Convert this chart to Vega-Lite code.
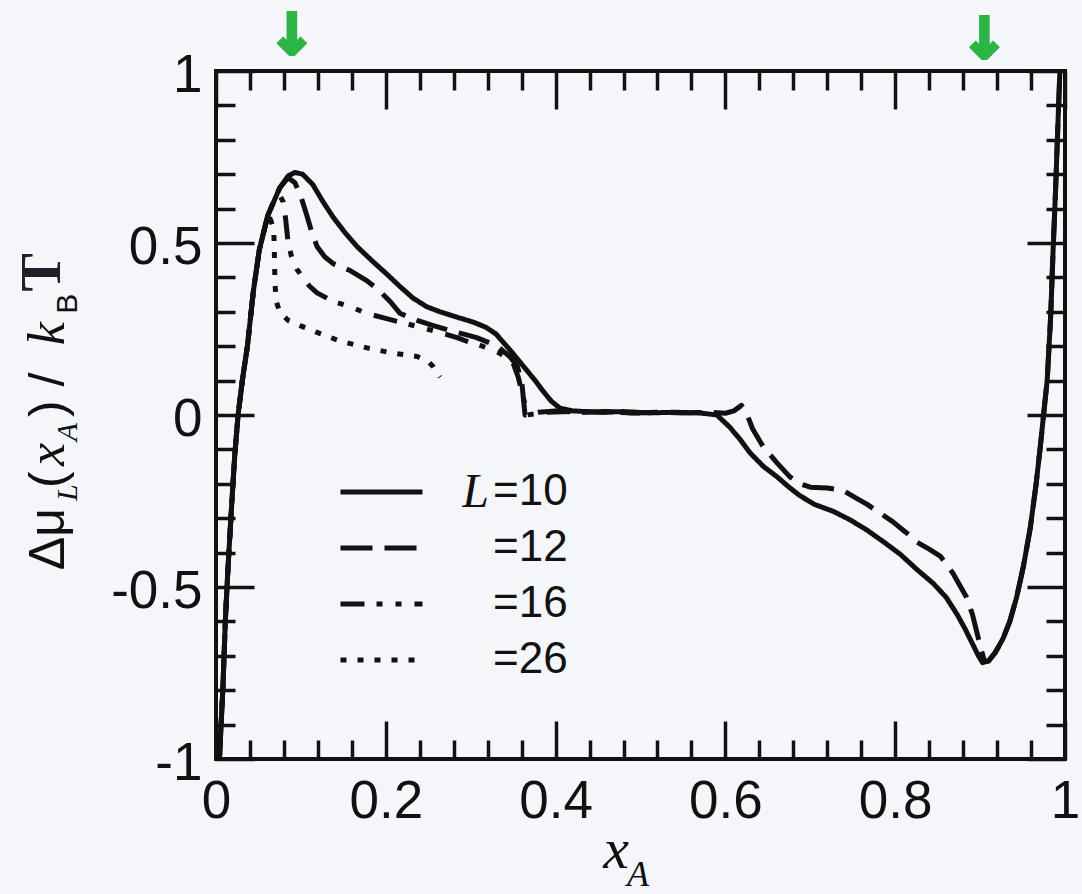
{
  "$schema": "https://vega.github.io/schema/vega-lite/v6.json",
  "width": 849,
  "height": 688,
  "autosize": {"type": "none"},
  "padding": {"left": 216, "top": 71, "right": 17, "bottom": 135},
  "background": "#f5f6fa",
  "config": {
    "view": {"stroke": "#111111", "strokeWidth": 4},
    "axis": {
      "domain": false,
      "grid": false,
      "title": null,
      "tickColor": "#111111",
      "tickWidth": 3.5,
      "labelFont": "Liberation Sans",
      "labelFontSize": 53,
      "labelColor": "#111111",
      "labelOverlap": false,
      "labelFlush": false,
      "labelBound": false
    }
  },
  "datasets": {
    "curves": [
      {"L": 10, "x_A": 0.004, "dmu": -1.0},
      {"L": 10, "x_A": 0.008, "dmu": -0.8},
      {"L": 10, "x_A": 0.011, "dmu": -0.6},
      {"L": 10, "x_A": 0.014, "dmu": -0.45},
      {"L": 10, "x_A": 0.018, "dmu": -0.28},
      {"L": 10, "x_A": 0.022, "dmu": -0.12},
      {"L": 10, "x_A": 0.026, "dmu": 0.0},
      {"L": 10, "x_A": 0.031, "dmu": 0.1},
      {"L": 10, "x_A": 0.037, "dmu": 0.2},
      {"L": 10, "x_A": 0.044, "dmu": 0.36},
      {"L": 10, "x_A": 0.051, "dmu": 0.48},
      {"L": 10, "x_A": 0.061, "dmu": 0.58},
      {"L": 10, "x_A": 0.075, "dmu": 0.66},
      {"L": 10, "x_A": 0.085, "dmu": 0.695},
      {"L": 10, "x_A": 0.093, "dmu": 0.705},
      {"L": 10, "x_A": 0.102, "dmu": 0.7},
      {"L": 10, "x_A": 0.114, "dmu": 0.67},
      {"L": 10, "x_A": 0.126, "dmu": 0.62},
      {"L": 10, "x_A": 0.138, "dmu": 0.575},
      {"L": 10, "x_A": 0.152, "dmu": 0.53},
      {"L": 10, "x_A": 0.166, "dmu": 0.49},
      {"L": 10, "x_A": 0.183, "dmu": 0.45},
      {"L": 10, "x_A": 0.201, "dmu": 0.41},
      {"L": 10, "x_A": 0.216, "dmu": 0.375},
      {"L": 10, "x_A": 0.232, "dmu": 0.34},
      {"L": 10, "x_A": 0.248, "dmu": 0.315},
      {"L": 10, "x_A": 0.264, "dmu": 0.3},
      {"L": 10, "x_A": 0.283, "dmu": 0.285},
      {"L": 10, "x_A": 0.303, "dmu": 0.27},
      {"L": 10, "x_A": 0.318, "dmu": 0.255},
      {"L": 10, "x_A": 0.33, "dmu": 0.235},
      {"L": 10, "x_A": 0.346, "dmu": 0.19},
      {"L": 10, "x_A": 0.356, "dmu": 0.16},
      {"L": 10, "x_A": 0.366, "dmu": 0.13},
      {"L": 10, "x_A": 0.376, "dmu": 0.1},
      {"L": 10, "x_A": 0.385, "dmu": 0.07},
      {"L": 10, "x_A": 0.395, "dmu": 0.04},
      {"L": 10, "x_A": 0.405, "dmu": 0.02},
      {"L": 10, "x_A": 0.42, "dmu": 0.012},
      {"L": 10, "x_A": 0.45, "dmu": 0.008},
      {"L": 10, "x_A": 0.48, "dmu": 0.01},
      {"L": 10, "x_A": 0.51, "dmu": 0.006},
      {"L": 10, "x_A": 0.54, "dmu": 0.008},
      {"L": 10, "x_A": 0.57, "dmu": 0.006},
      {"L": 10, "x_A": 0.59, "dmu": 0.0},
      {"L": 10, "x_A": 0.605, "dmu": -0.035},
      {"L": 10, "x_A": 0.617, "dmu": -0.07},
      {"L": 10, "x_A": 0.629, "dmu": -0.11},
      {"L": 10, "x_A": 0.645, "dmu": -0.15},
      {"L": 10, "x_A": 0.661, "dmu": -0.18},
      {"L": 10, "x_A": 0.675, "dmu": -0.21},
      {"L": 10, "x_A": 0.688, "dmu": -0.235},
      {"L": 10, "x_A": 0.705, "dmu": -0.26},
      {"L": 10, "x_A": 0.727, "dmu": -0.28},
      {"L": 10, "x_A": 0.747, "dmu": -0.305},
      {"L": 10, "x_A": 0.767, "dmu": -0.335},
      {"L": 10, "x_A": 0.787, "dmu": -0.37},
      {"L": 10, "x_A": 0.806, "dmu": -0.405},
      {"L": 10, "x_A": 0.826, "dmu": -0.45},
      {"L": 10, "x_A": 0.845, "dmu": -0.49},
      {"L": 10, "x_A": 0.86, "dmu": -0.53},
      {"L": 10, "x_A": 0.873, "dmu": -0.58},
      {"L": 10, "x_A": 0.883, "dmu": -0.625},
      {"L": 10, "x_A": 0.892, "dmu": -0.67},
      {"L": 10, "x_A": 0.898, "dmu": -0.7},
      {"L": 10, "x_A": 0.903, "dmu": -0.72},
      {"L": 10, "x_A": 0.91, "dmu": -0.715},
      {"L": 10, "x_A": 0.918, "dmu": -0.69},
      {"L": 10, "x_A": 0.927, "dmu": -0.65},
      {"L": 10, "x_A": 0.935, "dmu": -0.6},
      {"L": 10, "x_A": 0.943, "dmu": -0.53},
      {"L": 10, "x_A": 0.951, "dmu": -0.44},
      {"L": 10, "x_A": 0.959, "dmu": -0.33},
      {"L": 10, "x_A": 0.966, "dmu": -0.2},
      {"L": 10, "x_A": 0.971, "dmu": -0.09},
      {"L": 10, "x_A": 0.976, "dmu": 0.03},
      {"L": 10, "x_A": 0.979, "dmu": 0.1},
      {"L": 10, "x_A": 0.983, "dmu": 0.28},
      {"L": 10, "x_A": 0.986, "dmu": 0.48},
      {"L": 10, "x_A": 0.989, "dmu": 0.66},
      {"L": 10, "x_A": 0.991, "dmu": 0.8},
      {"L": 10, "x_A": 0.994, "dmu": 1.0},

      {"L": 12, "x_A": 0.004, "dmu": -1.0},
      {"L": 12, "x_A": 0.008, "dmu": -0.8},
      {"L": 12, "x_A": 0.011, "dmu": -0.6},
      {"L": 12, "x_A": 0.014, "dmu": -0.45},
      {"L": 12, "x_A": 0.018, "dmu": -0.28},
      {"L": 12, "x_A": 0.022, "dmu": -0.12},
      {"L": 12, "x_A": 0.026, "dmu": 0.0},
      {"L": 12, "x_A": 0.031, "dmu": 0.1},
      {"L": 12, "x_A": 0.037, "dmu": 0.2},
      {"L": 12, "x_A": 0.044, "dmu": 0.36},
      {"L": 12, "x_A": 0.051, "dmu": 0.48},
      {"L": 12, "x_A": 0.061, "dmu": 0.58},
      {"L": 12, "x_A": 0.075, "dmu": 0.66},
      {"L": 12, "x_A": 0.085, "dmu": 0.69},
      {"L": 12, "x_A": 0.093, "dmu": 0.675},
      {"L": 12, "x_A": 0.1, "dmu": 0.635},
      {"L": 12, "x_A": 0.107, "dmu": 0.58},
      {"L": 12, "x_A": 0.113, "dmu": 0.53},
      {"L": 12, "x_A": 0.119, "dmu": 0.49},
      {"L": 12, "x_A": 0.128, "dmu": 0.46},
      {"L": 12, "x_A": 0.138, "dmu": 0.44},
      {"L": 12, "x_A": 0.158, "dmu": 0.42},
      {"L": 12, "x_A": 0.178, "dmu": 0.39},
      {"L": 12, "x_A": 0.193, "dmu": 0.36},
      {"L": 12, "x_A": 0.205, "dmu": 0.33},
      {"L": 12, "x_A": 0.217, "dmu": 0.295},
      {"L": 12, "x_A": 0.237, "dmu": 0.275},
      {"L": 12, "x_A": 0.256, "dmu": 0.26},
      {"L": 12, "x_A": 0.276, "dmu": 0.245},
      {"L": 12, "x_A": 0.292, "dmu": 0.235},
      {"L": 12, "x_A": 0.307, "dmu": 0.225},
      {"L": 12, "x_A": 0.322, "dmu": 0.21},
      {"L": 12, "x_A": 0.334, "dmu": 0.195},
      {"L": 12, "x_A": 0.346, "dmu": 0.17},
      {"L": 12, "x_A": 0.355, "dmu": 0.14},
      {"L": 12, "x_A": 0.36, "dmu": 0.1},
      {"L": 12, "x_A": 0.362, "dmu": 0.05},
      {"L": 12, "x_A": 0.364, "dmu": 0.0},
      {"L": 12, "x_A": 0.38, "dmu": 0.008},
      {"L": 12, "x_A": 0.4, "dmu": 0.012},
      {"L": 12, "x_A": 0.43, "dmu": 0.008},
      {"L": 12, "x_A": 0.46, "dmu": 0.01},
      {"L": 12, "x_A": 0.49, "dmu": 0.006},
      {"L": 12, "x_A": 0.52, "dmu": 0.008},
      {"L": 12, "x_A": 0.55, "dmu": 0.006},
      {"L": 12, "x_A": 0.58, "dmu": 0.008},
      {"L": 12, "x_A": 0.6, "dmu": 0.005},
      {"L": 12, "x_A": 0.61, "dmu": 0.012},
      {"L": 12, "x_A": 0.619, "dmu": 0.028},
      {"L": 12, "x_A": 0.625, "dmu": 0.005},
      {"L": 12, "x_A": 0.632, "dmu": -0.04},
      {"L": 12, "x_A": 0.644, "dmu": -0.09},
      {"L": 12, "x_A": 0.661, "dmu": -0.14},
      {"L": 12, "x_A": 0.676, "dmu": -0.18},
      {"L": 12, "x_A": 0.688, "dmu": -0.2},
      {"L": 12, "x_A": 0.7, "dmu": -0.21},
      {"L": 12, "x_A": 0.72, "dmu": -0.212},
      {"L": 12, "x_A": 0.739, "dmu": -0.22},
      {"L": 12, "x_A": 0.753, "dmu": -0.24},
      {"L": 12, "x_A": 0.767, "dmu": -0.26},
      {"L": 12, "x_A": 0.782, "dmu": -0.285},
      {"L": 12, "x_A": 0.797, "dmu": -0.31},
      {"L": 12, "x_A": 0.812, "dmu": -0.34},
      {"L": 12, "x_A": 0.826, "dmu": -0.37},
      {"L": 12, "x_A": 0.84, "dmu": -0.39},
      {"L": 12, "x_A": 0.853, "dmu": -0.41},
      {"L": 12, "x_A": 0.868, "dmu": -0.46},
      {"L": 12, "x_A": 0.884, "dmu": -0.53},
      {"L": 12, "x_A": 0.891, "dmu": -0.58},
      {"L": 12, "x_A": 0.896, "dmu": -0.63},
      {"L": 12, "x_A": 0.9, "dmu": -0.67},
      {"L": 12, "x_A": 0.905, "dmu": -0.715},
      {"L": 12, "x_A": 0.91, "dmu": -0.715},
      {"L": 12, "x_A": 0.918, "dmu": -0.69},
      {"L": 12, "x_A": 0.927, "dmu": -0.65},
      {"L": 12, "x_A": 0.935, "dmu": -0.6},
      {"L": 12, "x_A": 0.943, "dmu": -0.53},
      {"L": 12, "x_A": 0.951, "dmu": -0.44},
      {"L": 12, "x_A": 0.959, "dmu": -0.33},
      {"L": 12, "x_A": 0.966, "dmu": -0.2},
      {"L": 12, "x_A": 0.971, "dmu": -0.09},
      {"L": 12, "x_A": 0.976, "dmu": 0.03},
      {"L": 12, "x_A": 0.979, "dmu": 0.1},
      {"L": 12, "x_A": 0.983, "dmu": 0.28},
      {"L": 12, "x_A": 0.986, "dmu": 0.48},
      {"L": 12, "x_A": 0.989, "dmu": 0.66},
      {"L": 12, "x_A": 0.991, "dmu": 0.8},
      {"L": 12, "x_A": 0.994, "dmu": 1.0},

      {"L": 16, "x_A": 0.004, "dmu": -1.0},
      {"L": 16, "x_A": 0.008, "dmu": -0.8},
      {"L": 16, "x_A": 0.011, "dmu": -0.6},
      {"L": 16, "x_A": 0.014, "dmu": -0.45},
      {"L": 16, "x_A": 0.018, "dmu": -0.28},
      {"L": 16, "x_A": 0.022, "dmu": -0.12},
      {"L": 16, "x_A": 0.026, "dmu": 0.0},
      {"L": 16, "x_A": 0.031, "dmu": 0.1},
      {"L": 16, "x_A": 0.037, "dmu": 0.2},
      {"L": 16, "x_A": 0.044, "dmu": 0.36},
      {"L": 16, "x_A": 0.051, "dmu": 0.48},
      {"L": 16, "x_A": 0.061, "dmu": 0.58},
      {"L": 16, "x_A": 0.068, "dmu": 0.62},
      {"L": 16, "x_A": 0.075, "dmu": 0.64},
      {"L": 16, "x_A": 0.079, "dmu": 0.62},
      {"L": 16, "x_A": 0.082, "dmu": 0.57},
      {"L": 16, "x_A": 0.085, "dmu": 0.5},
      {"L": 16, "x_A": 0.089, "dmu": 0.46},
      {"L": 16, "x_A": 0.095, "dmu": 0.425},
      {"L": 16, "x_A": 0.102, "dmu": 0.4},
      {"L": 16, "x_A": 0.11, "dmu": 0.375},
      {"L": 16, "x_A": 0.119, "dmu": 0.355},
      {"L": 16, "x_A": 0.138, "dmu": 0.33},
      {"L": 16, "x_A": 0.158, "dmu": 0.315},
      {"L": 16, "x_A": 0.178, "dmu": 0.295},
      {"L": 16, "x_A": 0.201, "dmu": 0.28},
      {"L": 16, "x_A": 0.225, "dmu": 0.265},
      {"L": 16, "x_A": 0.256, "dmu": 0.245},
      {"L": 16, "x_A": 0.284, "dmu": 0.225},
      {"L": 16, "x_A": 0.3, "dmu": 0.21},
      {"L": 16, "x_A": 0.314, "dmu": 0.2},
      {"L": 16, "x_A": 0.334, "dmu": 0.18},
      {"L": 16, "x_A": 0.35, "dmu": 0.15},
      {"L": 16, "x_A": 0.356, "dmu": 0.11},
      {"L": 16, "x_A": 0.36, "dmu": 0.07},
      {"L": 16, "x_A": 0.364, "dmu": 0.03},
      {"L": 16, "x_A": 0.366, "dmu": 0.0},
      {"L": 16, "x_A": 0.39, "dmu": 0.008},
      {"L": 16, "x_A": 0.42, "dmu": 0.01},
      {"L": 16, "x_A": 0.46, "dmu": 0.008},
      {"L": 16, "x_A": 0.5, "dmu": 0.006},

      {"L": 26, "x_A": 0.004, "dmu": -1.0},
      {"L": 26, "x_A": 0.008, "dmu": -0.8},
      {"L": 26, "x_A": 0.011, "dmu": -0.6},
      {"L": 26, "x_A": 0.014, "dmu": -0.45},
      {"L": 26, "x_A": 0.018, "dmu": -0.28},
      {"L": 26, "x_A": 0.022, "dmu": -0.12},
      {"L": 26, "x_A": 0.026, "dmu": 0.0},
      {"L": 26, "x_A": 0.031, "dmu": 0.1},
      {"L": 26, "x_A": 0.037, "dmu": 0.2},
      {"L": 26, "x_A": 0.044, "dmu": 0.36},
      {"L": 26, "x_A": 0.051, "dmu": 0.48},
      {"L": 26, "x_A": 0.058, "dmu": 0.55},
      {"L": 26, "x_A": 0.064, "dmu": 0.57},
      {"L": 26, "x_A": 0.068, "dmu": 0.54},
      {"L": 26, "x_A": 0.0685, "dmu": 0.5},
      {"L": 26, "x_A": 0.069, "dmu": 0.44},
      {"L": 26, "x_A": 0.0695, "dmu": 0.38},
      {"L": 26, "x_A": 0.071, "dmu": 0.33},
      {"L": 26, "x_A": 0.075, "dmu": 0.3},
      {"L": 26, "x_A": 0.085, "dmu": 0.275},
      {"L": 26, "x_A": 0.099, "dmu": 0.26},
      {"L": 26, "x_A": 0.119, "dmu": 0.24},
      {"L": 26, "x_A": 0.146, "dmu": 0.215},
      {"L": 26, "x_A": 0.178, "dmu": 0.195},
      {"L": 26, "x_A": 0.208, "dmu": 0.18},
      {"L": 26, "x_A": 0.237, "dmu": 0.17},
      {"L": 26, "x_A": 0.25, "dmu": 0.155},
      {"L": 26, "x_A": 0.256, "dmu": 0.14},
      {"L": 26, "x_A": 0.264, "dmu": 0.11}
    ],
    "pointers": [
      {"x_A": 0.0895, "dmu": 1.1},
      {"x_A": 0.905, "dmu": 1.088}
    ]
  },
  "resolve": {"axis": {"x": "independent", "y": "independent"}},
  "layer": [
    {
      "data": {"name": "curves"},
      "mark": {"type": "line", "color": "#111111", "strokeWidth": 5, "strokeCap": "butt", "strokeJoin": "round"},
      "encoding": {
        "x": {
          "field": "x_A", "type": "quantitative",
          "scale": {"domain": [0, 1], "nice": false},
          "axis": {
            "orient": "bottom",
            "values": [0, 0.04, 0.08, 0.12, 0.16, 0.2, 0.24, 0.28, 0.32, 0.36, 0.4, 0.44, 0.48, 0.52, 0.56, 0.6, 0.64, 0.68, 0.72, 0.76, 0.8, 0.84, 0.88, 0.92, 0.96, 1],
            "tickSize": {"condition": {"test": "abs(datum.value*5 - round(datum.value*5)) < 0.001", "value": -38}, "value": -19},
            "labelPadding": 54,
            "labelExpr": "abs(datum.value*5 - round(datum.value*5)) < 0.001 ? format(datum.value, '~g') : ''"
          }
        },
        "y": {
          "field": "dmu", "type": "quantitative",
          "scale": {"domain": [-1, 1], "nice": false},
          "axis": {
            "orient": "left",
            "values": [-1, -0.9, -0.8, -0.7, -0.6, -0.5, -0.4, -0.3, -0.2, -0.1, 0, 0.1, 0.2, 0.3, 0.4, 0.5, 0.6, 0.7, 0.8, 0.9, 1],
            "tickSize": {"condition": {"test": "abs(datum.value*2 - round(datum.value*2)) < 0.001", "value": -38}, "value": -19},
            "labelPadding": 52,
            "labelOffset": 4,
            "labelExpr": "abs(datum.value*2 - round(datum.value*2)) < 0.001 ? replace(format(datum.value, '~g'), '−', '-') : ''"
          }
        },
        "strokeDash": {
          "field": "L", "type": "nominal",
          "scale": {"domain": [10, 12, 16, 26], "range": [[1, 0], [32, 12], [24, 12, 6, 13, 6, 13], [6, 11]]},
          "legend": {
            "orient": "none",
            "legendX": 122,
            "legendY": 399,
            "title": null,
            "padding": 0,
            "symbolType": "stroke",
            "symbolSize": 6724,
            "symbolStrokeWidth": 5,
            "symbolStrokeColor": "#111111",
            "clipHeight": 44,
            "rowPadding": 12,
            "labelFont": "Liberation Sans",
            "labelFontSize": 44,
            "labelColor": "#111111",
            "labelOffset": 68,
            "labelLimit": 400,
            "labelExpr": "'=' + datum.label"
          }
        }
      }
    },
    {
      "data": {"name": "pointers"},
      "mark": {"type": "text", "text": "↓", "font": "DejaVu Sans", "fontWeight": "bold", "fontSize": 56, "baseline": "middle", "align": "center", "color": "#2cb546", "stroke": "#2cb546", "strokeWidth": 4},
      "encoding": {
        "x": {
          "field": "x_A", "type": "quantitative",
          "scale": {"domain": [0, 1], "nice": false},
          "axis": {
            "orient": "top",
            "values": [0, 0.04, 0.08, 0.12, 0.16, 0.2, 0.24, 0.28, 0.32, 0.36, 0.4, 0.44, 0.48, 0.52, 0.56, 0.6, 0.64, 0.68, 0.72, 0.76, 0.8, 0.84, 0.88, 0.92, 0.96, 1],
            "tickSize": {"condition": {"test": "abs(datum.value*5 - round(datum.value*5)) < 0.001", "value": -38}, "value": -19},
            "labels": false
          }
        },
        "y": {
          "field": "dmu", "type": "quantitative",
          "scale": {"domain": [-1, 1], "nice": false},
          "axis": {
            "orient": "right",
            "values": [-1, -0.9, -0.8, -0.7, -0.6, -0.5, -0.4, -0.3, -0.2, -0.1, 0, 0.1, 0.2, 0.3, 0.4, 0.5, 0.6, 0.7, 0.8, 0.9, 1],
            "tickSize": {"condition": {"test": "abs(datum.value*2 - round(datum.value*2)) < 0.001", "value": -38}, "value": -19},
            "labels": false
          }
        }
      }
    },
    {
      "data": {"values": [{}]},
      "mark": {"type": "text", "text": "L", "font": "Liberation Serif", "fontStyle": "italic", "fontSize": 48, "align": "left", "baseline": "alphabetic", "color": "#111111"},
      "encoding": {
        "x": {"datum": 0.29, "type": "quantitative", "scale": {"domain": [0, 1]}, "axis": null},
        "y": {"datum": -0.267, "type": "quantitative", "scale": {"domain": [-1, 1]}, "axis": null}
      }
    },
    {
      "data": {"values": [{}]},
      "mark": {"type": "text", "text": "x", "font": "Liberation Serif", "fontStyle": "italic", "fontSize": 58, "align": "left", "baseline": "alphabetic", "color": "#111111"},
      "encoding": {
        "x": {"datum": 0.456, "type": "quantitative", "scale": {"domain": [0, 1]}, "axis": null},
        "y": {"datum": -1.317, "type": "quantitative", "scale": {"domain": [-1, 1]}, "axis": null}
      }
    },
    {
      "data": {"values": [{}]},
      "mark": {"type": "text", "text": "A", "font": "Liberation Serif", "fontStyle": "italic", "fontSize": 36, "align": "left", "baseline": "alphabetic", "color": "#111111"},
      "encoding": {
        "x": {"datum": 0.484, "type": "quantitative", "scale": {"domain": [0, 1]}, "axis": null},
        "y": {"datum": -1.37, "type": "quantitative", "scale": {"domain": [-1, 1]}, "axis": null}
      }
    },
    {
      "data": {"values": [{}]},
      "mark": {"type": "text", "text": "Δμ", "font": "Liberation Sans", "fontSize": 50, "angle": 270, "align": "left", "baseline": "alphabetic", "color": "#111111"},
      "encoding": {
        "x": {"datum": -0.179, "type": "quantitative", "scale": {"domain": [0, 1]}, "axis": null},
        "y": {"datum": -0.451, "type": "quantitative", "scale": {"domain": [-1, 1]}, "axis": null}
      }
    },
    {
      "data": {"values": [{}]},
      "mark": {"type": "text", "text": "L", "font": "Liberation Serif", "fontStyle": "italic", "fontSize": 30, "angle": 270, "align": "left", "baseline": "alphabetic", "color": "#111111"},
      "encoding": {
        "x": {"datum": -0.164, "type": "quantitative", "scale": {"domain": [0, 1]}, "axis": null},
        "y": {"datum": -0.25, "type": "quantitative", "scale": {"domain": [-1, 1]}, "axis": null}
      }
    },
    {
      "data": {"values": [{}]},
      "mark": {"type": "text", "text": "(", "font": "Liberation Sans", "fontSize": 50, "angle": 270, "align": "left", "baseline": "alphabetic", "color": "#111111"},
      "encoding": {
        "x": {"datum": -0.179, "type": "quantitative", "scale": {"domain": [0, 1]}, "axis": null},
        "y": {"datum": -0.212, "type": "quantitative", "scale": {"domain": [-1, 1]}, "axis": null}
      }
    },
    {
      "data": {"values": [{}]},
      "mark": {"type": "text", "text": "x", "font": "Liberation Serif", "fontStyle": "italic", "fontSize": 52, "angle": 270, "align": "left", "baseline": "alphabetic", "color": "#111111"},
      "encoding": {
        "x": {"datum": -0.179, "type": "quantitative", "scale": {"domain": [0, 1]}, "axis": null},
        "y": {"datum": -0.148, "type": "quantitative", "scale": {"domain": [-1, 1]}, "axis": null}
      }
    },
    {
      "data": {"values": [{}]},
      "mark": {"type": "text", "text": "A", "font": "Liberation Serif", "fontStyle": "italic", "fontSize": 30, "angle": 270, "align": "left", "baseline": "alphabetic", "color": "#111111"},
      "encoding": {
        "x": {"datum": -0.164, "type": "quantitative", "scale": {"domain": [0, 1]}, "axis": null},
        "y": {"datum": -0.076, "type": "quantitative", "scale": {"domain": [-1, 1]}, "axis": null}
      }
    },
    {
      "data": {"values": [{}]},
      "mark": {"type": "text", "text": ") / ", "font": "Liberation Sans", "fontSize": 50, "angle": 270, "align": "left", "baseline": "alphabetic", "color": "#111111"},
      "encoding": {
        "x": {"datum": -0.179, "type": "quantitative", "scale": {"domain": [0, 1]}, "axis": null},
        "y": {"datum": -0.006, "type": "quantitative", "scale": {"domain": [-1, 1]}, "axis": null}
      }
    },
    {
      "data": {"values": [{}]},
      "mark": {"type": "text", "text": "k", "font": "Liberation Serif", "fontStyle": "italic", "fontSize": 52, "angle": 270, "align": "left", "baseline": "alphabetic", "color": "#111111"},
      "encoding": {
        "x": {"datum": -0.179, "type": "quantitative", "scale": {"domain": [0, 1]}, "axis": null},
        "y": {"datum": 0.203, "type": "quantitative", "scale": {"domain": [-1, 1]}, "axis": null}
      }
    },
    {
      "data": {"values": [{}]},
      "mark": {"type": "text", "text": "B", "font": "Liberation Sans", "fontSize": 30, "angle": 270, "align": "left", "baseline": "alphabetic", "color": "#111111"},
      "encoding": {
        "x": {"datum": -0.164, "type": "quantitative", "scale": {"domain": [0, 1]}, "axis": null},
        "y": {"datum": 0.294, "type": "quantitative", "scale": {"domain": [-1, 1]}, "axis": null}
      }
    },
    {
      "data": {"values": [{}]},
      "mark": {"type": "text", "text": "T", "font": "Liberation Serif", "fontWeight": "bold", "fontSize": 58, "angle": 270, "align": "left", "baseline": "alphabetic", "color": "#1d1f2b"},
      "encoding": {
        "x": {"datum": -0.184, "type": "quantitative", "scale": {"domain": [0, 1]}, "axis": null},
        "y": {"datum": 0.358, "type": "quantitative", "scale": {"domain": [-1, 1]}, "axis": null}
      }
    }
  ]
}
